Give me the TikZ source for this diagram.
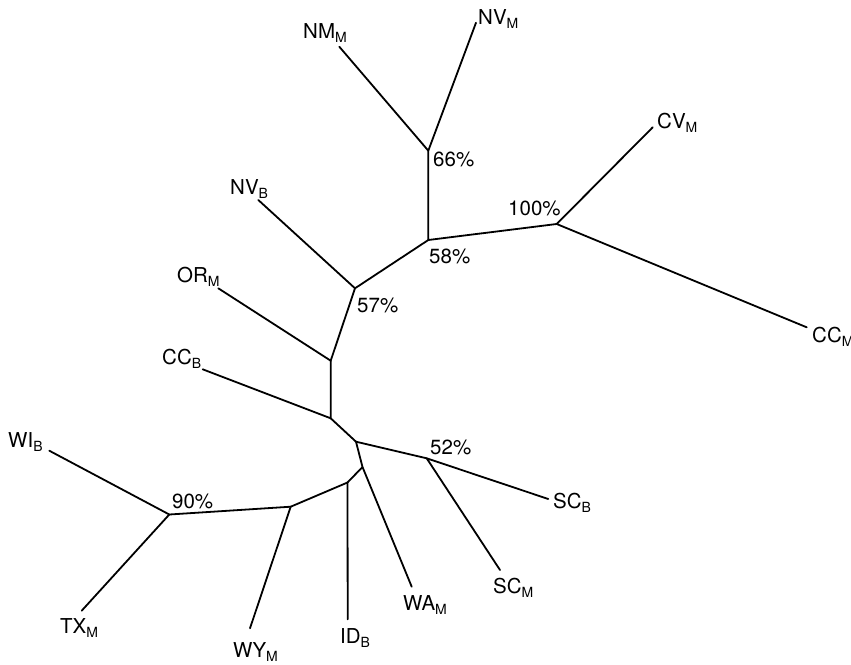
\documentclass[tikz,border=0pt]{standalone}
\usepackage{fontspec}
\setmainfont{TeX Gyre Heros}
\newcommand{\tx}[2]{#1\raisebox{-4pt}{\fontsize{14pt}{14pt}\selectfont #2}}
\begin{document}
\begin{tikzpicture}[x=1pt,y=-1pt,
  br/.style={line width=1.8pt, line cap=round, line join=round},
  leaf/.style={anchor=base west, inner sep=0pt, font=\fontsize{20.5pt}{24pt}\selectfont},
  pct/.style={anchor=base west, inner sep=0pt, font=\fontsize{20.5pt}{24pt}\selectfont}]
\useasboundingbox (0,0) rectangle (851,664);
% internal nodes
\coordinate (a) at (428.3,150.7);
\coordinate (b) at (428.3,240);
\coordinate (c) at (556.7,224);
\coordinate (d) at (355,288.3);
\coordinate (e) at (330.7,360.7);
\coordinate (f) at (330.7,418.3);
\coordinate (g) at (356,441.7);
\coordinate (h) at (426.7,458.3);
\coordinate (i) at (362.5,467);
\coordinate (j) at (347.5,482.5);
\coordinate (k) at (290.7,506.7);
\coordinate (l) at (169.3,514.5);
% leaf ends
\coordinate (nmm) at (339.3,46.7);
\coordinate (nvm) at (476,22.7);
\coordinate (cvm) at (652.7,127.3);
\coordinate (ccm) at (806.7,327.3);
\coordinate (nvb) at (258.3,200);
\coordinate (orm) at (218.3,288.3);
\coordinate (ccb) at (202.7,369.3);
\coordinate (scb) at (548.3,499);
\coordinate (scm) at (500,570);
\coordinate (wam) at (411.7,586.7);
\coordinate (idb) at (347.7,619.3);
\coordinate (wym) at (250,628.3);
\coordinate (wib) at (49.3,450.7);
\coordinate (txm) at (81.7,610.7);
% branches
\draw[br] (nmm) -- (a) -- (nvm);
\draw[br] (a) -- (b) -- (c);
\draw[br] (cvm) -- (c) -- (ccm);
\draw[br] (b) -- (d) -- (nvb);
\draw[br] (d) -- (e) -- (orm);
\draw[br] (e) -- (f) -- (ccb);
\draw[br] (f) -- (g) -- (h);
\draw[br] (scb) -- (h) -- (scm);
\draw[br] (g) -- (i) -- (wam);
\draw[br] (i) -- (j) -- (idb);
\draw[br] (j) -- (k) -- (wym);
\draw[br] (k) -- (l) -- (wib);
\draw[br] (l) -- (txm);
% leaf labels
\node[leaf] (Lnmm) at (303,38) {\tx{NM}{M}};
\node[leaf] (Lnvm) at (478,24) {\tx{NV}{M}};
\node[leaf] (Lcvm) at (657,128) {\tx{CV}{M}};
\node[leaf] (Lccm) at (812,342) {\tx{CC}{M}};
\node[leaf] (Lnvb) at (230,194) {\tx{NV}{B}};
\node[leaf] (Lorm) at (177,282) {\tx{OR}{M}};
\node[leaf] (Lccb) at (162,364) {\tx{CC}{B}};
\node[leaf] (Lwib) at (8,447) {\tx{WI}{B}};
\node[leaf] (Ltxm) at (60,633) {\tx{TX}{M}};
\node[leaf] (Lwym) at (233,657) {\tx{WY}{M}};
\node[leaf] (Lidb) at (340,643) {\tx{ID}{B}};
\node[leaf] (Lwam) at (403,610) {\tx{WA}{M}};
\node[leaf] (Lscm) at (493,593) {\tx{SC}{M}};
\node[leaf] (Lscb) at (553,508) {\tx{SC}{B}};
% bootstrap labels
\node[pct] (Pa) at (433,166) {66\%};
\node[pct] (Pb) at (429,263) {58\%};
\node[pct] (Pc) at (508,215) {100\%};
\node[pct] (Pd) at (357,312) {57\%};
\node[pct] (Ph) at (430,454) {52\%};
\node[pct] (Pl) at (172,508) {90\%};
\end{tikzpicture}
\end{document}
